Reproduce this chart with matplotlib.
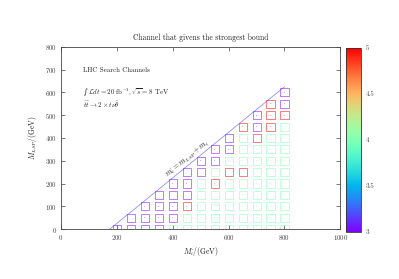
import numpy as np
import matplotlib
matplotlib.use("Agg")
import matplotlib.pyplot as plt
from matplotlib import cm, colors

plt.rcParams['font.family'] = ['cmr10', 'DejaVu Serif']
plt.rcParams['mathtext.fontset'] = 'cm'
plt.rcParams['axes.unicode_minus'] = False
plt.rcParams['axes.formatter.use_mathtext'] = True

# ---- data ----
stop_masses = [200, 250, 300, 350, 400, 450, 500, 550, 600, 650, 700, 750, 800]
lsp_masses = [0, 50, 100, 150, 200, 250, 300, 350, 400, 450, 500, 550, 600]
N = None
channel = [
    [3, 3, 3, 3, 4, 4, 4, 4, 4, 4, 4, 4, 4],
    [N, 3, 3, 3, 3, 4, 4, 4, 4, 4, 4, 4, 4],
    [N, N, 3, 3, 3, 5, 4, 4, 4, 4, 4, 4, 4],
    [N, N, N, 3, 3, 3, 4, 4, 4, 4, 4, 4, 4],
    [N, N, N, N, 3, 3, 4, 5, 4, 4, 4, 4, 4],
    [N, N, N, N, N, 3, 3, 4, 5, 5, 4, 4, 4],
    [N, N, N, N, N, N, 3, 3, 4, 4, 4, 4, 4],
    [N, N, N, N, N, N, N, 3, 3, 4, 4, 4, 4],
    [N, N, N, N, N, N, N, N, 3, 4, 5, 4, 4],
    [N, N, N, N, N, N, N, N, N, 5, 3, 5, 4],
    [N, N, N, N, N, N, N, N, N, N, 3, 5, 5],
    [N, N, N, N, N, N, N, N, N, N, N, 5, 3],
    [N, N, N, N, N, N, N, N, N, N, N, N, 3],
]
top_mass = 175
line_stop = [175, 800]
cbar_ticks = [3, 3.5, 4, 4.5, 5]
x_ticks = [0, 200, 400, 600, 800, 1000]
y_ticks = [0, 100, 200, 300, 400, 500, 600, 700, 800]

# ---- figure ----
fig = plt.figure(figsize=(3.99, 2.79), dpi=100)
ax = fig.add_axes([0.153, 0.179, 0.700, 0.653])
cax = fig.add_axes([0.868, 0.169, 0.037, 0.660])

cmap = plt.get_cmap('rainbow')
norm = colors.Normalize(vmin=3, vmax=5)

xs, ys, vs = [], [], []
for j, row in enumerate(channel):
    for i, v in enumerate(row):
        if v is not None:
            xs.append(stop_masses[i]); ys.append(lsp_masses[j]); vs.append(v)
xs = np.array(xs); ys = np.array(ys); vs = np.array(vs, dtype=float)
cols = cmap(norm(vs))
cols_soft = cols.copy()
cols_soft[:, 3] = 0.6
cols_dot = cols.copy()
cols_dot[:, 3] = 0.35

ax.scatter(xs, ys, s=34, marker='s', facecolors='none', edgecolors=cols_soft,
           linewidths=0.6, zorder=3)
ax.scatter(xs, ys, s=0.25, marker='s', color=cols_dot, linewidths=0, zorder=3)

lx = np.array(line_stop, dtype=float)
ax.plot(lx, lx - top_mass, color='#8f8fff', lw=0.6, zorder=2)
ax.text(452, 308, r'$m_{\tilde t} = m_{LSP} + m_t$', rotation=45,
        transform_rotates_text=True, rotation_mode='anchor',
        ha='center', va='center', fontsize=5.5, color='#222222')

ax.text(80, 700, 'LHC Search Channels', fontsize=5, va='center', color='#222222')
ax.text(80, 600, '\u222b', fontsize=5, va='center', color='#222222',
        family=['DejaVu Serif'])
ax.text(97, 600, r'$\mathcal{L}dt = 20\ \mathrm{fb}^{-1}, \sqrt{s} = 8\ \mathrm{TeV}$',
        fontsize=5, va='center', color='#222222')
ax.text(80, 545, r'$\tilde{t}\tilde{t} \rightarrow 2\times t\nu\tilde{\theta}$',
        fontsize=5, va='center', color='#222222')

ax.set_xlim(0, 1000)
ax.set_ylim(0, 800)
ax.set_xticks(x_ticks)
ax.set_yticks(y_ticks)
ax.tick_params(direction='in', length=3, width=0.5, labelsize=5,
               top=True, right=True, colors='#444444', pad=3)
for s in ax.spines.values():
    s.set_linewidth(0.6)
    s.set_color('#444444')
ax.set_xlabel(r'$M_{\tilde t}/(\mathrm{GeV})$', fontsize=5.5, labelpad=2, color='#222222')
ax.set_ylabel(r'$M_{LSP}/(\mathrm{GeV})$', fontsize=5.5, labelpad=4, color='#222222')
ax.set_title('Channel that givens the strongest bound', fontsize=5.5, pad=5, color='#222222')

cb = fig.colorbar(cm.ScalarMappable(norm=norm, cmap=cmap), cax=cax, ticks=cbar_ticks)
cb.ax.tick_params(labelsize=5, length=0, pad=3, colors='#444444')
cb.ax.set_yticklabels(['3', '3.5', '4', '4.5', '5'])
cb.outline.set_linewidth(0.6)
cb.outline.set_color('#333333')

fig.savefig('out.png', dpi=100)
